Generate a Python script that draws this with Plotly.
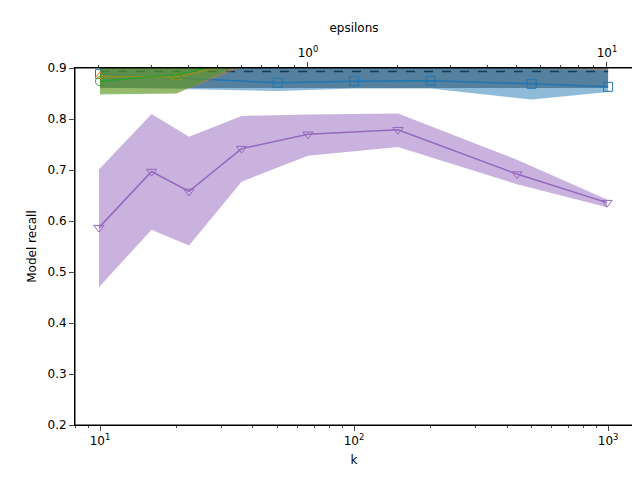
import plotly.graph_objects as go

# bottom axis: k
k_blue = [10, 50, 100, 200, 500, 1000]
blue_mean = [0.888, 0.871, 0.874, 0.875, 0.869, 0.863]
blue_lo = [0.862, 0.855, 0.860, 0.860, 0.838, 0.853]
blue_hi = [0.914, 0.900, 0.905, 0.905, 0.900, 0.895]

k_orange = [10, 20, 50, 100, 200, 500, 1000]
orange_mean = [0.884, 0.882, 0.93, 0.94, 0.94, 0.94, 0.94]
orange_lo = [0.850, 0.850, 0.93, 0.94, 0.94, 0.94, 0.94]
orange_hi = [0.91, 0.91, 0.96, 0.96, 0.96, 0.96, 0.96]

k_green = [10, 20, 50, 100, 200, 500, 1000]
green_mean = [0.874, 0.887, 0.93, 0.94, 0.94, 0.94, 0.94]
green_lo = [0.848, 0.850, 0.94, 0.94, 0.94, 0.94, 0.94]
green_hi = [0.90, 0.92, 0.96, 0.96, 0.96, 0.96, 0.96]

k_base = [10, 1000]
base_mean = [0.893, 0.893]
base_lo = [0.861, 0.861]
base_hi = [0.93, 0.93]

# top axis: epsilons
eps = [0.2, 0.3, 0.4, 0.6, 1, 2, 5, 10]
purple_mean = [0.587, 0.697, 0.658, 0.742, 0.770, 0.779, 0.692, 0.636]
purple_lo = [0.470, 0.583, 0.552, 0.677, 0.728, 0.745, 0.672, 0.627]
purple_hi = [0.701, 0.810, 0.765, 0.806, 0.809, 0.811, 0.720, 0.642]

fig = go.Figure()


def band(x, lo, hi, color, axis="x"):
    fig.add_trace(go.Scatter(x=x, y=lo, mode="lines", line=dict(width=0),
                             xaxis=axis, showlegend=False, hoverinfo="skip"))
    fig.add_trace(go.Scatter(x=x, y=hi, mode="lines", line=dict(width=0),
                             fill="tonexty", fillcolor=color, xaxis=axis,
                             showlegend=False, hoverinfo="skip"))


band(k_base, base_lo, base_hi, "rgba(60,60,60,0.6)")
fig.add_trace(go.Scatter(x=k_base, y=base_mean, mode="lines",
                         line=dict(color="black", dash="dash", width=1.5)))
band(k_blue, blue_lo, blue_hi, "rgba(31,119,180,0.5)")
fig.add_trace(go.Scatter(x=k_blue, y=blue_mean, mode="lines+markers",
                         line=dict(color="#1f77b4", width=1.5),
                         marker=dict(symbol="square-open", size=9, color="#1f77b4")))
band(k_orange, orange_lo, orange_hi, "rgba(255,127,14,0.35)")
fig.add_trace(go.Scatter(x=k_orange, y=orange_mean, mode="lines+markers",
                         line=dict(color="#ff7f0e", width=1.5),
                         marker=dict(symbol="triangle-up-open", size=9, color="#ff7f0e")))
band(k_green, green_lo, green_hi, "rgba(44,160,44,0.5)")
fig.add_trace(go.Scatter(x=k_green, y=green_mean, mode="lines+markers",
                         line=dict(color="#2ca02c", width=1.5),
                         marker=dict(symbol="circle-open", size=9, color="#2ca02c")))
band(eps, purple_lo, purple_hi, "rgba(148,103,189,0.5)", axis="x2")
fig.add_trace(go.Scatter(x=eps, y=purple_mean, mode="lines+markers", xaxis="x2",
                         line=dict(color="#9467bd", width=1.5),
                         marker=dict(symbol="triangle-down-open", size=9, color="#9467bd")))

minor_k = [m * 10 ** d for d in (0, 1, 2) for m in range(2, 10)]
minor_e = [m * 10 ** d for d in (-1, 0, 1) for m in range(2, 10)]
ax = dict(showline=True, linecolor="black", mirror=False, ticks="outside",
          showgrid=False, zeroline=False, automargin=False,
          tickfont=dict(size=12, color="black"))

fig.update_layout(
    width=640, height=480, template="none", showlegend=False,
    paper_bgcolor="white", plot_bgcolor="white",
    margin=dict(l=67, r=15, t=60, b=63),
    font=dict(family="DejaVu Sans", size=12, color="black"),
    xaxis=dict(ax, type="log", range=[0.9016, 3.098],
               tickvals=[10, 100, 1000],
               ticktext=["10<sup>1</sup>", "10<sup>2</sup>", "10<sup>3</sup>"],
               minor=dict(tickvals=minor_k, ticks="outside", ticklen=2),
               title=dict(text="k", standoff=8, font=dict(size=12, color="black"))),
    xaxis2=dict(ax, type="log", range=[-0.779, 1.087], overlaying="x", side="top",
                tickvals=[1, 10], ticktext=["10<sup>0</sup>", "10<sup>1</sup>"],
                minor=dict(tickvals=minor_e, ticks="outside", ticklen=2),
                title=dict(text="epsilons", standoff=8, font=dict(size=12, color="black"))),
    yaxis=dict(ax, range=[0.2, 0.9], dtick=0.1, tickformat=".1f",
               title=dict(text="Model recall", standoff=8,
                          font=dict(size=12, color="black"))),
)
fig.add_shape(type="rect", xref="paper", yref="paper", x0=0, x1=1, y0=0, y1=1,
              line=dict(color="black", width=1))

fig.write_html("out.html")
